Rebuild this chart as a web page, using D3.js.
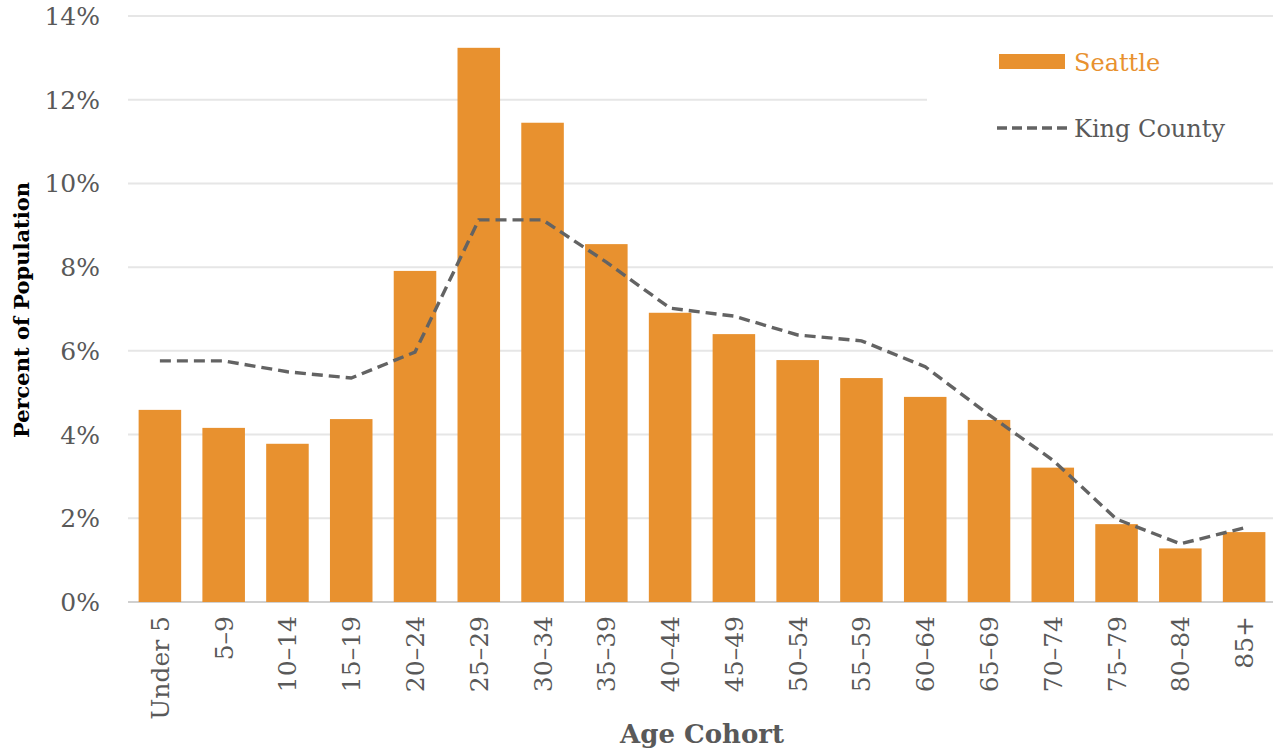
<!DOCTYPE html>
<html><head><meta charset="utf-8">
<script src="https://cdn.jsdelivr.net/npm/d3@7"></script>
<style>body{margin:0;background:#fff}svg{display:block}text{font-family:"DejaVu Serif",serif}</style>
</head><body><svg id="c" width="1273" height="752"></svg>
<script>
const categories = ["Under 5","5–9","10–14","15–19","20–24","25–29","30–34","35–39","40–44","45–49","50–54","55–59","60–64","65–69","70–74","75–79","80–84","85+"];
const seattle = [4.59,4.16,3.78,4.37,7.91,13.24,11.45,8.55,6.91,6.40,5.78,5.35,4.90,4.35,3.21,1.86,1.28,1.67];
const kingCounty = [5.76,5.76,5.50,5.35,5.97,9.13,9.13,8.12,7.02,6.83,6.38,6.24,5.62,4.47,3.39,1.98,1.39,1.77];
const yTicks = [0,2,4,6,8,10,12,14];
const seriesNames = ["Seattle","King County"];

const svg = d3.select("#c");
const L=128, R=1276, T=16, B=602;
const x = d3.scaleBand().domain(categories).range([L,R]).paddingInner(0.333).paddingOuter(0.1665);
const y = d3.scaleLinear().domain([0,14]).range([B,T]);
const orange="#E8912F", grey="#595959";

// gridlines
svg.append("g").selectAll("line").data(yTicks).join("line")
  .attr("x1",L).attr("x2",1273).attr("y1",d=>y(d)).attr("y2",d=>y(d))
  .attr("stroke",d=>d===0?"#d0d0d0":"#e6e6e6").attr("stroke-width",2);

// y tick labels
svg.append("g").selectAll("text").data(yTicks).join("text")
  .attr("x",100).attr("y",d=>y(d)).attr("dy","0.36em").attr("text-anchor","end")
  .attr("font-size",25).attr("fill",grey).text(d=>d+"%");

// legend background covering gridlines
svg.append("rect").attr("x",927).attr("y",30).attr("width",346).attr("height",130).attr("fill","#fff");

// bars
svg.append("g").selectAll("rect").data(categories).join("rect")
  .attr("x",d=>x(d)).attr("width",x.bandwidth())
  .attr("y",(d,i)=>y(seattle[i])).attr("height",(d,i)=>B-y(seattle[i]))
  .attr("fill",orange);

// line
const line = d3.line().x((d,i)=>x(categories[i])+x.bandwidth()/2).y(d=>y(d));
svg.append("path").datum(kingCounty).attr("d",line).attr("fill","none")
  .attr("stroke","#636363").attr("stroke-width",3.4).attr("stroke-dasharray","11,6");

// x tick labels
svg.append("g").selectAll("text").data(categories).join("text")
  .attr("transform",d=>`translate(${x(d)+x.bandwidth()/2},616) rotate(-90)`)
  .attr("dy","0.36em").attr("text-anchor","end").attr("font-size",25).attr("fill",grey).text(d=>d);

// axis titles
svg.append("text").attr("x",(L+R)/2).attr("y",743).attr("text-anchor","middle")
  .attr("font-size",26).attr("font-weight","bold").attr("fill",grey).text("Age Cohort");
svg.append("text").attr("transform","translate(29,310) rotate(-90)").attr("text-anchor","middle")
  .attr("font-size",21).attr("font-weight","bold").attr("fill","#000").text("Percent of Population");

// legend
const lg = svg.append("g");
lg.append("rect").attr("x",999).attr("y",54).attr("width",66).attr("height",15).attr("fill",orange);
lg.append("text").attr("x",1074).attr("y",62).attr("dy","0.36em").attr("font-size",24).attr("fill",orange).text(seriesNames[0]);
lg.append("line").attr("x1",997).attr("x2",1068).attr("y1",128).attr("y2",128)
  .attr("stroke","#636363").attr("stroke-width",3.4).attr("stroke-dasharray","10,5");
lg.append("text").attr("x",1074).attr("y",128).attr("dy","0.36em").attr("font-size",24).attr("fill",grey).text(seriesNames[1]);
</script></body></html>
